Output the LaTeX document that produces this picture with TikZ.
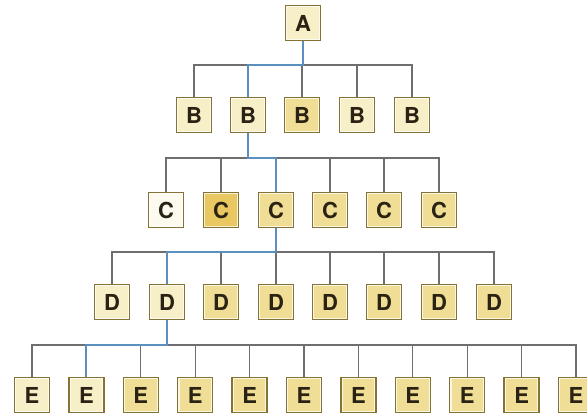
\documentclass[tikz,border=0pt]{standalone}
\usepackage{fontspec}
\setmainfont{TeX Gyre Heros}
\definecolor{boxline}{HTML}{857235}
\definecolor{fillL}{HTML}{F7EFC8}
\definecolor{fillM}{HTML}{F1DE96}
\definecolor{fillD}{HTML}{E9C862}
\definecolor{fillW}{HTML}{FCFAEE}
\definecolor{linkgray}{HTML}{6E6E6E}
\definecolor{linkblue}{HTML}{5B8FBF}
\definecolor{txt}{HTML}{2A2212}
\tikzset{
  box/.style={draw=boxline, line width=1.5pt, fill=fillM, minimum size=35pt, inner sep=0pt,
    font=\fontsize{22}{22}\selectfont\bfseries, text=txt,
    path picture={\draw[white, line width=3.6pt, opacity=0.75] (path picture bounding box.south west) rectangle (path picture bounding box.north east);}},
  lbox/.style={box, fill=fillL},
  wbox/.style={box, fill=fillW},
  dbox/.style={box, fill=fillD},
  link/.style={draw=linkgray, line width=1.2pt},
  bluelink/.style={draw=linkblue, line width=2pt}
}
\begin{document}
\begin{tikzpicture}[x=1pt, y=-1pt]
\useasboundingbox (0,0) rectangle (587,414);
% level A
\node[lbox] (a) at (303,23) {A};
% level B
\node[lbox] (b1) at (194,115) {B};
\node[lbox] (b2) at (248,115) {B};
\node[box]  (b3) at (302,115) {B};
\node[lbox] (b4) at (357,115) {B};
\node[lbox] (b5) at (412,115) {B};
% level C
\node[wbox] (c1) at (166,210) {C};
\node[dbox] (c2) at (221,210) {C};
\node[box]  (c3) at (276,210) {C};
\node[box]  (c4) at (330,210) {C};
\node[box]  (c5) at (384,210) {C};
\node[box]  (c6) at (439,210) {C};
% level D
\node[lbox] (d1) at (112,302) {D};
\node[lbox] (d2) at (167,302) {D};
\node[box]  (d3) at (221,302) {D};
\node[box]  (d4) at (276,302) {D};
\node[box]  (d5) at (330,302) {D};
\node[box]  (d6) at (384,302) {D};
\node[box]  (d7) at (439,302) {D};
\node[box]  (d8) at (494,302) {D};
% level E
\foreach \i [evaluate=\i as \x using 32+54.4*(\i-1)] in {1,...,11}{
  \ifnum\i<3
    \node[lbox] (e\i) at (\x,395) {E};
  \else
    \node[box] (e\i) at (\x,395) {E};
  \fi
}
% bar junctions
\coordinate (ab) at (303,65);
\coordinate (bc) at (248,158);
\coordinate (cd) at (276,252);
\coordinate (de) at (167,345);
% gray connectors
\draw[link] (a.south) -- (ab);
\foreach \n in {b1,b2,b3,b4,b5} \draw[link] (ab) -| (\n.north);
\foreach \n in {c1,c2,c3,c4,c5,c6} \draw[link] (bc) -| (\n.north);
\foreach \n in {d1,d2,d3,d4,d5,d6,d7,d8} \draw[link] (cd) -| (\n.north);
\foreach \n in {e1,e2,e3,e4,e5,e6,e7,e8,e9,e10,e11} \draw[link] (de) -| (\n.north);
% blue path
\draw[bluelink] (a.south) -- (ab) -| (b2.north);
\draw[bluelink] (b2.south) -- (bc) -| (c3.north);
\draw[bluelink] (c3.south) -- (cd) -| (d2.north);
\draw[bluelink] (d2.south) -- (de) -| (e2.north);
\end{tikzpicture}
\end{document}
